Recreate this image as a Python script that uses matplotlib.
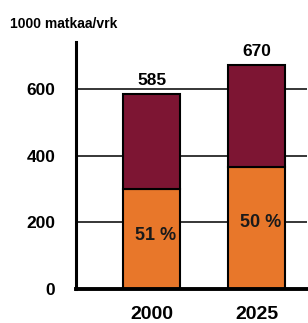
import matplotlib.pyplot as plt
import numpy as np

plt.rcParams['font.family'] = ['Liberation Sans', 'DejaVu Sans']

# ============================================================
# DATA
# ============================================================
years = ["2000", "2025"]
totals = [585, 670]
lower = [300, 365]
shares = ["51 %", "50 %"]
share_y = [160, 198]
upper = [t - l for t, l in zip(totals, lower)]

COL_LOW = "#e8772a"
COL_UP = "#7d1533"

fig = plt.figure(figsize=(3.08, 3.23), dpi=100)
ax = fig.add_axes([0.247, 0.105, 0.75, 0.765])

x = np.arange(len(years))
width = 0.54

for yv in [200, 400, 600]:
    ax.axhline(yv, color="black", lw=1.1, zorder=1)

ax.bar(x, lower, width, color=COL_LOW, edgecolor="black", lw=1.5, zorder=2)
ax.bar(x, upper, width, bottom=lower, color=COL_UP, edgecolor="black", lw=1.5, zorder=2)

for i in range(len(years)):
    ax.text(x[i], totals[i] + 18, str(totals[i]), ha="center", va="bottom",
            fontsize=12.5, fontweight="bold")
    ax.text(x[i] + 0.04, share_y[i], shares[i], ha="center", va="center",
            fontsize=13, fontweight="bold", color="#1a1a1a", zorder=3)

ax.set_xlim(-0.72, 1.48)
ax.set_ylim(0, 740)
ax.set_yticks([0, 200, 400, 600])
ax.set_yticklabels(["0", "200", "400", "600"], fontsize=12.5, fontweight="bold")
ax.set_xticks(x)
ax.set_xticklabels(years, fontsize=14, fontweight="bold")
ax.tick_params(axis="both", length=0)
ax.tick_params(axis="x", pad=12)
ax.tick_params(axis="y", pad=15)

for s in ["top", "right"]:
    ax.spines[s].set_visible(False)
ax.spines["left"].set_linewidth(2.2)
ax.spines["bottom"].set_linewidth(2.8)

fig.text(0.032, 0.926, "1000 matkaa/vrk", fontsize=10, fontweight="bold",
         ha="left", va="center")

fig.savefig("out.png", dpi=100)
